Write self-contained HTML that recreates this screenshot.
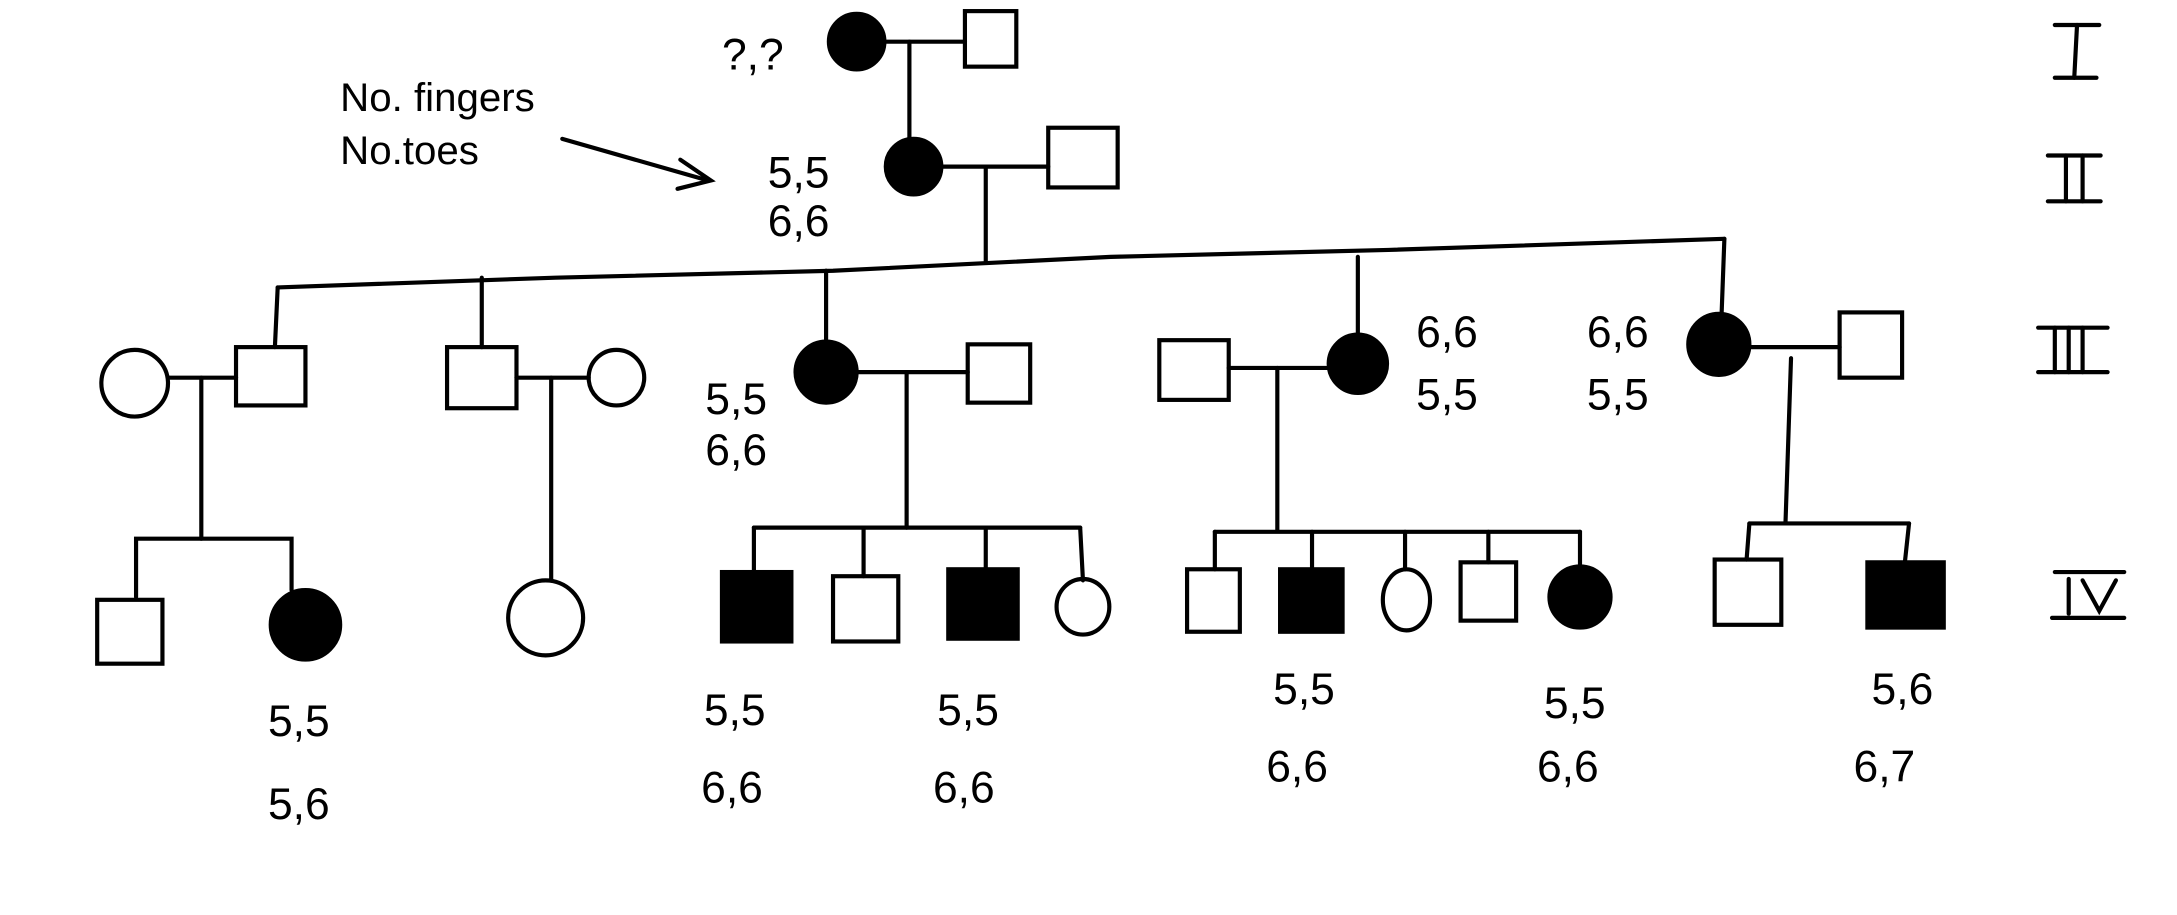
<!DOCTYPE html>
<html><head><style>
html,body{margin:0;padding:0;background:#fff;}
svg{display:block;}
text{font-family:"Liberation Sans",sans-serif;fill:#000;}
</style></head><body>
<svg width="2177" height="915" viewBox="0 0 1568 659" preserveAspectRatio="none" xmlns="http://www.w3.org/2000/svg">
<rect width="1568" height="659" fill="#fff"/>
<g stroke="#000" stroke-width="3" fill="none" stroke-linecap="round">
<!-- Gen I -->
<circle cx="617" cy="30" r="20" fill="#000"/>
<rect x="695" y="8" width="37" height="40"/>
<line x1="637" y1="30" x2="695" y2="30"/>
<line x1="655" y1="30" x2="655" y2="100"/>
<!-- Gen II -->
<circle cx="658" cy="120" r="20" fill="#000"/>
<rect x="755" y="92" width="50" height="43"/>
<line x1="678" y1="120" x2="755" y2="120"/>
<line x1="710" y1="120" x2="710" y2="188"/>
<!-- annotation arrow -->
<line x1="405" y1="100" x2="510" y2="130"/>
<polyline points="490,115 512,130 488,136"/>
<!-- sibship III -->
<polyline points="200,207 400,200 600,195 800,185 1000,180 1242,172"/>
<line x1="200" y1="207" x2="198" y2="250"/>
<line x1="347" y1="200" x2="347" y2="250"/>
<line x1="595" y1="195" x2="595" y2="246"/>
<line x1="978" y1="185" x2="978" y2="241"/>
<line x1="1242" y1="172" x2="1240" y2="226"/>
<!-- Gen III -->
<circle cx="97" cy="276" r="24"/>
<rect x="170" y="250" width="50" height="42"/>
<line x1="121" y1="272" x2="170" y2="272"/>
<line x1="145" y1="272" x2="145" y2="388"/>
<rect x="322" y="250" width="50" height="44"/>
<circle cx="444" cy="272" r="20"/>
<line x1="372" y1="272" x2="424" y2="272"/>
<line x1="397" y1="272" x2="397" y2="418"/>
<circle cx="595" cy="268" r="22" fill="#000"/>
<rect x="697" y="248" width="45" height="42"/>
<line x1="617" y1="268" x2="697" y2="268"/>
<line x1="653" y1="268" x2="653" y2="380"/>
<rect x="835" y="245" width="50" height="43"/>
<circle cx="978" cy="262" r="21" fill="#000"/>
<line x1="885" y1="265" x2="957" y2="265"/>
<line x1="920" y1="265" x2="920" y2="382"/>
<circle cx="1238" cy="248" r="22" fill="#000"/>
<rect x="1325" y="225" width="45" height="47"/>
<line x1="1260" y1="250" x2="1325" y2="250"/>
<line x1="1290" y1="258" x2="1286" y2="377"/>
<!-- Gen IV sibships -->
<polyline points="98,430 98,388 210,388 210,425"/>
<rect x="70" y="432" width="47" height="46"/>
<circle cx="220" cy="450" r="25" fill="#000"/>
<circle cx="393" cy="445" r="27"/>
<line x1="543" y1="380" x2="778" y2="380"/>
<line x1="543" y1="380" x2="543" y2="412"/>
<line x1="622" y1="380" x2="622" y2="415"/>
<line x1="710" y1="380" x2="710" y2="410"/>
<line x1="778" y1="380" x2="780" y2="418"/>
<rect x="520" y="412" width="50" height="50" fill="#000"/>
<rect x="600" y="415" width="47" height="47"/>
<rect x="683" y="410" width="50" height="50" fill="#000"/>
<ellipse cx="780" cy="437" rx="19" ry="20"/>
<line x1="875" y1="383" x2="1138" y2="383"/>
<line x1="875" y1="383" x2="875" y2="410"/>
<line x1="945" y1="383" x2="945" y2="410"/>
<line x1="1012" y1="383" x2="1012" y2="410"/>
<line x1="1072" y1="383" x2="1072" y2="405"/>
<line x1="1138" y1="383" x2="1138" y2="408"/>
<rect x="855" y="410" width="38" height="45"/>
<rect x="922" y="410" width="45" height="45" fill="#000"/>
<ellipse cx="1013" cy="432" rx="17" ry="22"/>
<rect x="1052" y="405" width="40" height="42"/>
<circle cx="1138" cy="430" r="22" fill="#000"/>
<line x1="1260" y1="377" x2="1375" y2="377"/>
<line x1="1260" y1="377" x2="1258" y2="403"/>
<line x1="1375" y1="377" x2="1372" y2="405"/>
<rect x="1235" y="403" width="48" height="47"/>
<rect x="1345" y="405" width="55" height="47" fill="#000"/>
<!-- roman numeral bars -->
<line x1="1480" y1="18" x2="1512" y2="18"/><line x1="1480" y1="56" x2="1510" y2="56"/><line x1="1496" y1="18" x2="1494" y2="56"/>
<line x1="1475" y1="112" x2="1513" y2="112"/><line x1="1475" y1="145" x2="1513" y2="145"/><line x1="1488" y1="112" x2="1488" y2="145"/><line x1="1500" y1="112" x2="1500" y2="145"/>
<line x1="1468" y1="236" x2="1518" y2="236"/><line x1="1468" y1="268" x2="1518" y2="268"/><line x1="1480" y1="236" x2="1480" y2="268"/><line x1="1490" y1="236" x2="1490" y2="268"/><line x1="1500" y1="236" x2="1500" y2="268"/>
<line x1="1480" y1="412" x2="1530" y2="412"/><line x1="1478" y1="445" x2="1530" y2="445"/><line x1="1490" y1="417" x2="1490" y2="442"/><polyline points="1500,418 1512,440 1524,418"/>
</g>
<g font-size="32">
<text x="520" y="50">?,?</text>
<text x="245" y="80" font-size="29">No. fingers</text>
<text x="245" y="118" font-size="29">No.toes</text>
<text x="553" y="135">5,5</text><text x="553" y="170">6,6</text>
<text x="1020" y="250">6,6</text><text x="1020" y="295">5,5</text>
<text x="1143" y="250">6,6</text><text x="1143" y="295">5,5</text>
<text x="508" y="298">5,5</text><text x="508" y="335">6,6</text>
<text x="193" y="530">5,5</text><text x="193" y="590">5,6</text>
<text x="507" y="522">5,5</text><text x="505" y="578">6,6</text>
<text x="675" y="522">5,5</text><text x="672" y="578">6,6</text>
<text x="917" y="507">5,5</text><text x="912" y="563">6,6</text>
<text x="1112" y="517">5,5</text><text x="1107" y="563">6,6</text>
<text x="1348" y="507">5,6</text><text x="1335" y="563">6,7</text>
</g>
</svg>
</body></html>
